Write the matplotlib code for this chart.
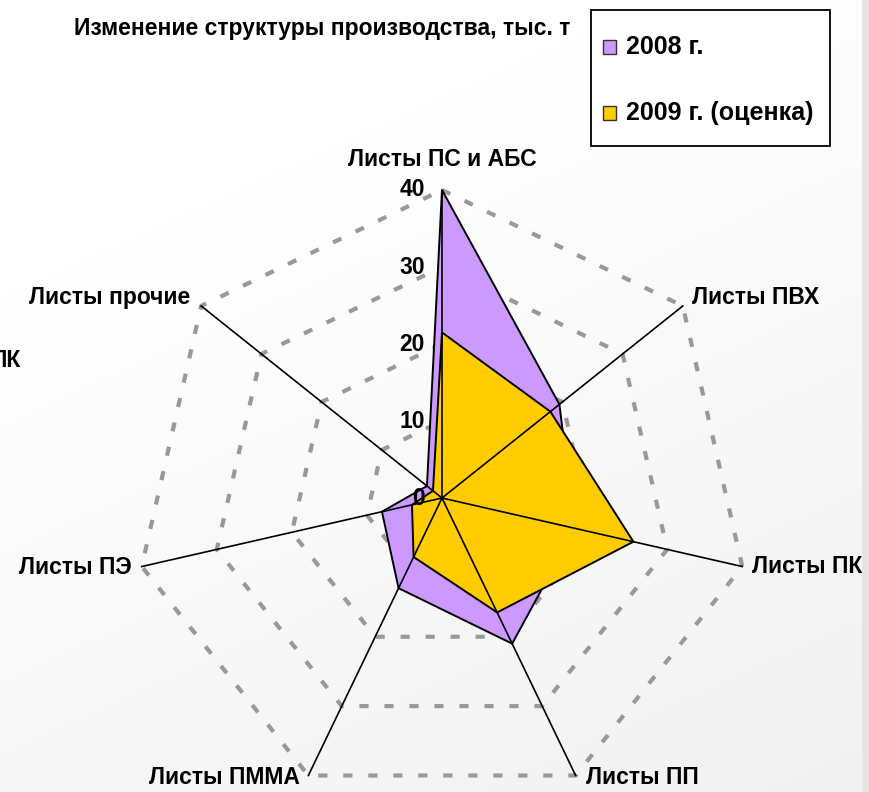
import numpy as np
import matplotlib
matplotlib.use('Agg')
import matplotlib.pyplot as plt
from matplotlib.patches import Rectangle
from matplotlib.transforms import offset_copy

# ---- data ----
categories = ['Листы ПС и АБС', 'Листы ПВХ', 'Листы ПК', 'Листы ПП',
              'Листы ПММА', 'Листы ПЭ', 'Листы прочие']
values_2008 = [40, 19.5, 17.7, 21, 13, 8, 2.5]
values_2009 = [21.5, 18, 25.5, 16.5, 8.5, 4, 1.5]
series_labels = ['2008 г.', '2009 г. (оценка)']
series_colors = ['#cc99ff', '#ffcc00']
tick_values = [0, 10, 20, 30, 40]
title_text = 'Изменение структуры производства, тыс. т'

plt.rcParams['font.family'] = ['Liberation Sans', 'DejaVu Sans']
plt.rcParams['font.weight'] = 'bold'

W, H = 870, 792
fig = plt.figure(figsize=(W / 100, H / 100), dpi=100)


def fx(x):
    return x / W


def fy(y):
    return 1 - y / H


# background
bg = fig.add_axes([0, 0, 1, 1], zorder=-10)
yy, xx = np.mgrid[0:H, 0:W]
shade = 1.0 - 0.06 * np.clip((yy / H) * 0.8 + (xx / W) * 0.4 - 0.3, 0, 1)
img = np.dstack([shade, shade, shade])
img[:, 862:, :] = 0.90
bg.imshow(img, aspect='auto', extent=[0, 1, 0, 1], interpolation='bilinear')
bg.axis('off')

# radar axes
cx, cy, R = 442, 498, 308
ax = fig.add_axes([fx(cx - R), fy(cy + R), 2 * R / W, 2 * R / H], projection='polar')
ax.set_theta_offset(np.pi / 2)
ax.set_theta_direction(-1)
ax.set_ylim(0, 40)
ax.set_facecolor('none')
ax.grid(False)
ax.set_xticks([])
ax.set_yticks([])
ax.spines['polar'].set_visible(False)

n = len(categories)
theta = np.arange(n) * 2 * np.pi / n
tc = np.append(theta, theta[0])

for t in tick_values[1:]:
    ax.plot(tc, [t] * (n + 1), color='#999999', lw=3.0, ls=(0, (2.2, 3.8)),
            dash_capstyle='butt', zorder=1, clip_on=False)

for vals, col, z in zip([values_2008, values_2009], series_colors, [3, 4]):
    vc = np.append(vals, vals[0])
    ax.fill(tc, vc, facecolor=col, edgecolor='black', lw=1.4, zorder=z, clip_on=False)

for th in theta:
    ax.plot([th, th], [0, 40], color='black', lw=1.2, zorder=5, clip_on=False)

# tick labels
tick_tr = offset_copy(ax.transData, fig=fig, x=-17, y=0, units='dots')
for t in tick_values:
    ax.text(0, t, str(t), transform=tick_tr, ha='right', va='center',
            fontsize=16.5, fontweight='bold', zorder=6, clip_on=False)

# category labels
offsets = [(0, 31, 'center'), (9, 8, 'left'), (10, 0, 'left'), (10, -2, 'left'),
           (-8, -2, 'right'), (-10, -1, 'right'), (-11, 8, 'right')]
for th, lab, (dx, dy, ha) in zip(theta, categories, offsets):
    tr = offset_copy(ax.transData, fig=fig, x=dx, y=dy, units='dots')
    ax.text(th, 40, lab, transform=tr, ha=ha, va='center', fontsize=16.5,
            fontweight='bold', clip_on=False, zorder=6)

# title
fig.text(fx(322), fy(29), title_text, ha='center', va='center', fontsize=16.5,
         fontweight='bold')

# partially visible label at the left edge (cut off as in the reference)
fig.text(fx(21), fy(360), 'ПК', ha='right', va='center', fontsize=16.5, fontweight='bold')

# legend (manual)
fig.patches.append(Rectangle((fx(591), fy(146)), fx(830) - fx(591), fy(10) - fy(146),
                             transform=fig.transFigure, facecolor='white',
                             edgecolor='black', lw=1.3, zorder=1))
for i, (lab, col) in enumerate(zip(series_labels, series_colors)):
    ycen = 47 + 66 * i
    fig.patches.append(Rectangle((fx(603), fy(ycen + 6.5)), 13 / W, 13 / H,
                                 transform=fig.transFigure, facecolor=col,
                                 edgecolor='#333333', lw=1.0, zorder=2))
    fig.text(fx(626), fy(ycen), lab, ha='left', va='center', fontsize=18,
             fontweight='bold', zorder=3)

fig.savefig('out.png', dpi=100)
